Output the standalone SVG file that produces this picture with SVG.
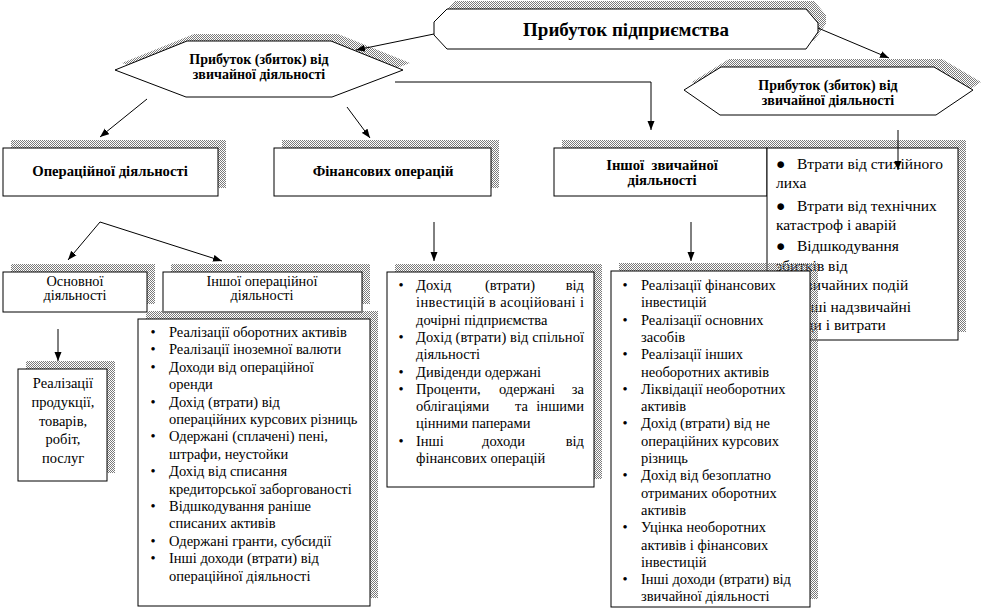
<svg xmlns="http://www.w3.org/2000/svg" width="983" height="610" viewBox="0 0 983 610" font-family="'Liberation Serif', 'DejaVu Serif', serif">
<defs>
<pattern id="dith" width="2" height="2" patternUnits="userSpaceOnUse"><rect width="1" height="1" fill="#7a7a7a"/><rect x="1" y="1" width="1" height="1" fill="#7a7a7a"/></pattern>
<marker id="ah" markerWidth="10" markerHeight="8" refX="9" refY="4" orient="auto" markerUnits="userSpaceOnUse"><path d="M0,0.5 L9,4 L0,7.5 z" fill="#000"/></marker>
<style>
.sh{fill:url(#dith);stroke:none}
.bx{fill:#fff;stroke:#000;stroke-width:1}
text{font-family:'Liberation Serif','DejaVu Serif',serif;fill:#000}
.b{font-weight:bold;font-size:14.7px;text-anchor:middle}
.h{font-weight:bold;font-size:14px;text-anchor:middle}
.r{font-size:14.5px}
.c{text-anchor:middle}
.e{text-anchor:end}
.big{font-size:15.5px}
.cn{fill:none;stroke:#000;stroke-width:1;marker-end:url(#ah)}
</style>
</defs>
<rect width="983" height="610" fill="#fff"/>

<g id="top">
<polygon class="sh" transform="translate(8,-8)" points="447,9 806,9 818,23 818,32 806,49 447,49 434,35 434,22"/>
<polygon class="bx" points="447,9 806,9 818,23 818,32 806,49 447,49 434,35 434,22"/>
<text x="626" y="36" font-size="19" font-weight="bold" text-anchor="middle">Прибуток підприємства</text>
</g>

<g id="ordinary-left">
<polygon class="sh" transform="translate(7,-7)" points="115,70 187,41 331,41 403,70 332,97 186,97"/>
<polygon class="bx" points="115,70 187,41 331,41 403,70 332,97 186,97"/>
<text class="h" x="259" y="63.5">Прибуток (збиток) від</text>
<text class="h" x="259" y="78.5">звичайної діяльності</text>
</g>

<g id="ordinary-right">
<polygon class="sh" transform="translate(8,-8)" points="684,90 721,67 934,67 973,90 936,115 720,115"/>
<polygon class="bx" points="684,90 721,67 934,67 973,90 936,115 720,115"/>
<text class="h" x="828" y="89.5">Прибуток (збиток) від</text>
<text class="h" x="828" y="104.5">звичайної діяльності</text>
</g>

<g id="operational">
<rect class="sh" x="11" y="140" width="215" height="48"/>
<rect class="bx" x="3" y="148" width="215" height="48"/>
<text class="b" x="110" y="176">Операційної діяльності</text>
</g>

<g id="financial">
<rect class="sh" x="282" y="140" width="217" height="48"/>
<rect class="bx" x="274" y="148" width="217" height="48"/>
<text class="b" x="383" y="176">Фінансових операцій</text>
</g>

<g id="other-ordinary">
<rect class="sh" x="562" y="140" width="213" height="48"/>
<rect class="bx" x="554" y="148" width="213" height="48"/>
<text class="b" x="662" y="170" xml:space="preserve">Іншої  звичайної</text>
<text class="b" x="662" y="184.5">діяльності</text>
</g>

<g id="extraordinary-list">
<rect class="sh" x="775" y="140" width="191" height="192"/>
<rect class="bx" x="767" y="148" width="191" height="192"/>
<text class="big" x="776" y="169" font-size="14">●</text>
<text class="big" x="797" y="169">Втрати від стихійного</text>
<text class="big" x="776" y="188">лиха</text>
<text class="big" x="776" y="211" font-size="14">●</text>
<text class="big" x="797" y="211">Втрати від технічних</text>
<text class="big" x="776" y="230">катастроф і аварій</text>
<text class="big" x="776" y="251" font-size="14">●</text>
<text class="big" x="797" y="251">Відшкодування</text>
<text class="big" x="776" y="271">збитків від</text>
<text class="big" x="776" y="290">надзвичайних подій</text>
<text class="big" x="776" y="312" font-size="14">●</text>
<text class="big" x="797" y="312">Інші надзвичайні</text>
<text class="big" x="776" y="330">доходи і витрати</text>
</g>

<g id="main-activity">
<rect class="sh" x="11" y="264" width="144" height="40"/>
<rect class="bx" x="3" y="272" width="144" height="40"/>
<text class="c" x="75" y="285.5" font-size="14.3">Основної</text>
<text class="c" x="75" y="300" font-size="14.3">діяльності</text>
</g>

<g id="other-operational">
<rect class="sh" x="171" y="264" width="199" height="40"/>
<rect class="bx" x="163" y="272" width="199" height="40"/>
<text class="c" x="262" y="285.5" font-size="14.3">Іншої операційної</text>
<text class="c" x="262" y="300" font-size="14.3">діяльності</text>
</g>

<g id="sales">
<rect class="sh" x="26" y="361" width="89" height="112"/>
<rect class="bx" x="18" y="369" width="89" height="112"/>
<text class="r c" x="63" y="388">Реалізації</text>
<text class="r c" x="63" y="407">продукції,</text>
<text class="r c" x="63" y="426">товарів,</text>
<text class="r c" x="63" y="444">робіт,</text>
<text class="r c" x="63" y="463">послуг</text>
</g>

<g id="operational-list">
<rect class="sh" x="146" y="311" width="232" height="287"/>
<rect class="bx" x="138" y="319" width="232" height="287"/>
<g font-size="14.5">
<text x="153" y="337" class="c">•</text><text x="169" y="337">Реалізації оборотних активів</text>
<text x="153" y="354.4" class="c">•</text><text x="169" y="354.4">Реалізації іноземної валюти</text>
<text x="153" y="371.8" class="c">•</text><text x="169" y="371.8">Доходи від операційної</text>
<text x="169" y="389.2">оренди</text>
<text x="153" y="406.6" class="c">•</text><text x="169" y="406.6">Дохід (втрати) від</text>
<text x="169" y="424">операційних курсових різниць</text>
<text x="153" y="441.4" class="c">•</text><text x="169" y="441.4">Одержані (сплачені) пені,</text>
<text x="169" y="458.8">штрафи, неустойки</text>
<text x="153" y="476.2" class="c">•</text><text x="169" y="476.2">Дохід від списання</text>
<text x="169" y="493.6">кредиторської заборгованості</text>
<text x="153" y="511" class="c">•</text><text x="169" y="511">Відшкодування раніше</text>
<text x="169" y="528.4">списаних активів</text>
<text x="153" y="545.8" class="c">•</text><text x="169" y="545.8">Одержані гранти, субсидії</text>
<text x="153" y="563.2" class="c">•</text><text x="169" y="563.2">Інші доходи (втрати) від</text>
<text x="169" y="580.6">операційної діяльності</text>
</g>
</g>

<g id="financial-list">
<rect class="sh" x="395" y="264" width="207" height="215"/>
<rect class="bx" x="387" y="272" width="207" height="215"/>
<g font-size="14.5">
<text x="401" y="290" class="c">•</text><text x="416" y="290">Дохід</text><text x="485" y="290">(втрати)</text><text x="584" y="290" class="e">від</text>
<text x="416" y="307.3" textLength="168" lengthAdjust="spacing">інвестицій в асоційовані і</text>
<text x="416" y="324.6">дочірні підприємства</text>
<text x="401" y="341.9" class="c">•</text><text x="416" y="341.9" textLength="168" lengthAdjust="spacing">Дохід (втрати) від спільної</text>
<text x="416" y="359.2">діяльності</text>
<text x="401" y="376.5" class="c">•</text><text x="416" y="376.5">Дивіденди одержані</text>
<text x="401" y="393.8" class="c">•</text><text x="416" y="393.8">Проценти,</text><text x="499" y="393.8">одержані</text><text x="584" y="393.8" class="e">за</text>
<text x="416" y="411.1">облігаціями</text><text x="515" y="411.1">та</text><text x="584" y="411.1" class="e">іншими</text>
<text x="416" y="428.4">цінними паперами</text>
<text x="401" y="445.7" class="c">•</text><text x="416" y="445.7">Інші</text><text x="482" y="445.7">доходи</text><text x="584" y="445.7" class="e">від</text>
<text x="416" y="463">фінансових операцій</text>
</g>
</g>

<g id="other-ordinary-list">
<rect class="sh" x="619" y="263" width="199" height="336"/>
<rect class="bx" x="611" y="271" width="199" height="336"/>
<g font-size="14.5">
<text x="625" y="290" class="c">•</text><text x="641" y="290">Реалізації фінансових</text>
<text x="641" y="307.3">інвестицій</text>
<text x="625" y="324.6" class="c">•</text><text x="641" y="324.6">Реалізації основних</text>
<text x="641" y="341.9">засобів</text>
<text x="625" y="359.2" class="c">•</text><text x="641" y="359.2">Реалізації інших</text>
<text x="641" y="376.5">необоротних активів</text>
<text x="625" y="393.8" class="c">•</text><text x="641" y="393.8">Ліквідації необоротних</text>
<text x="641" y="411.1">активів</text>
<text x="625" y="428.4" class="c">•</text><text x="641" y="428.4">Дохід (втрати) від не</text>
<text x="641" y="445.7">операційних курсових</text>
<text x="641" y="463">різниць</text>
<text x="625" y="480.3" class="c">•</text><text x="641" y="480.3">Дохід від безоплатно</text>
<text x="641" y="497.6">отриманих оборотних</text>
<text x="641" y="514.9">активів</text>
<text x="625" y="532.2" class="c">•</text><text x="641" y="532.2">Уцінка необоротних</text>
<text x="641" y="549.5">активів і фінансових</text>
<text x="641" y="566.8">інвестицій</text>
<text x="625" y="584.1" class="c">•</text><text x="641" y="584.1">Інші доходи (втрати) від</text>
<text x="641" y="601.4">звичайної діяльності</text>
</g>
</g>

<g id="connectors">
<path class="cn" d="M434,34 L356,50"/>
<path class="cn" d="M818,28 L889,58"/>
<path class="cn" d="M147,99 L100,137"/>
<path class="cn" d="M347,107 L370,138"/>
<path class="cn" d="M395,82 H651 V130"/>
<path class="cn" d="M898,130 V170"/>
<path class="cn" d="M100,222 L68,260"/>
<path class="cn" d="M100,222 L222,261"/>
<path class="cn" d="M434,222 V261"/>
<path class="cn" d="M691,222 V261"/>
<path class="cn" d="M58,329 V361"/>
</g>
</svg>
